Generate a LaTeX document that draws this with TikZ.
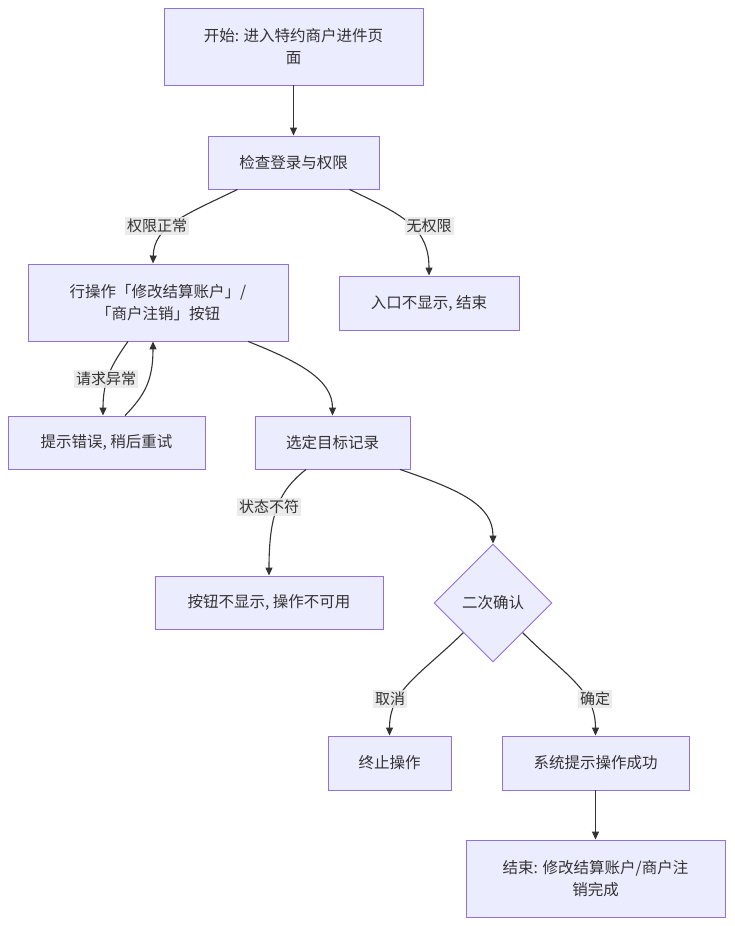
\documentclass[tikz,border=0pt]{standalone}
\usepackage{fontspec}
\setmainfont{Noto Sans CJK SC}
\usetikzlibrary{shapes.geometric,arrows.meta,calc}
\definecolor{nodefill}{HTML}{ECECFF}
\definecolor{nodeline}{HTML}{9370DB}
\definecolor{edgeline}{HTML}{333333}
\definecolor{txt}{HTML}{333333}
\definecolor{lblbg}{HTML}{E8E8E8}
\begin{document}
\begin{tikzpicture}[x=1pt,y=-1pt,
  box/.style={draw=nodeline,fill=nodefill,line width=0.9pt,inner sep=0pt,align=center,text=txt,font=\fontsize{15.5}{22}\selectfont},
  dia/.style={diamond,shape aspect=1,draw=nodeline,fill=nodefill,line width=0.9pt,inner sep=0pt,minimum width=118pt,minimum height=118pt,text=txt,font=\fontsize{15.5}{22}\selectfont},
  lbl/.style={fill=lblbg,fill opacity=0.85,text opacity=1,text=txt,inner sep=2pt,font=\fontsize{15}{18}\selectfont},
  edge/.style={draw=edgeline,line width=1.1pt,-{Triangle[length=8pt,width=7pt]}}
]
\useasboundingbox (0,0) rectangle (734,926);
\fill[white] (0,0) rectangle (734,926);

\node[box,minimum width=259pt,minimum height=77pt] (n1) at (293.5,46.5) {开始: 进入特约商户进件页\\面};
\node[box,minimum width=171pt,minimum height=53pt] (n2) at (293.5,162.5) {检查登录与权限};
\node[box,minimum width=260pt,minimum height=77pt] (n3) at (158,302.5) {行操作「修改结算账户」/\\「商户注销」按钮};
\node[box,minimum width=180pt,minimum height=54pt] (n4) at (429,303) {入口不显示, 结束};
\node[box,minimum width=197pt,minimum height=53pt] (n5) at (106.5,442.5) {提示错误, 稍后重试};
\node[box,minimum width=155pt,minimum height=53pt] (n6) at (332.5,442.5) {选定目标记录};
\node[box,minimum width=228pt,minimum height=53pt] (n7) at (269,602.5) {按钮不显示, 操作不可用};
\node[dia] (n8) at (493,603) {二次确认};
\node[box,minimum width=123pt,minimum height=54pt] (n9) at (389.5,763) {终止操作};
\node[box,minimum width=187pt,minimum height=54pt] (n10) at (595.5,763) {系统提示操作成功};
\node[box,minimum width=259pt,minimum height=77pt] (n11) at (595.5,878.5) {结束: 修改结算账户/商户注\\销完成};

\draw[edge] (n1.south) -- (n2.north);
\draw[edge] ($(n2.south)+(-56,0)$) .. controls (185,215) and (154,226) .. ($(n3.north)+(-5,0)$);
\draw[edge] ($(n2.south)+(56,0)$) .. controls (400,214) and (429,226) .. (n4.north);
\draw[edge] ($(n3.south)+(-30,0)$) .. controls (112,364) and (103,380) .. ($(n5.north)+(-3.5,0)$);
\draw[edge] ($(n5.north)+(18.5,0)$) .. controls (145,395) and (153,380) .. ($(n3.south)+(-5,0)$);
\draw[edge] ($(n3.south)+(90,0)$) .. controls (300,362) and (332.5,380) .. (n6.north);
\draw[edge] ($(n6.south)+(-26.5,0)$) .. controls (280,490) and (269,512) .. (n7.north);
\draw[edge] ($(n6.south)+(67.5,0)$) .. controls (460,490) and (493,505) .. (n8.north);
\draw[edge] (n8.south west) .. controls (420,675) and (389.5,690) .. (n9.north);
\draw[edge] (n8.south east) .. controls (565,675) and (595.5,690) .. (n10.north);
\draw[edge] (n10.south) -- (n11.north);

\node[lbl] (l1) at (157,226) {权限正常};
\node[lbl] (l2) at (429,226) {无权限};
\node[lbl] (l3) at (106,379) {请求异常};
\node[lbl] (l4) at (269,507) {状态不符};
\node[lbl] (l5) at (390,699) {取消};
\node[lbl] (l6) at (595,699) {确定};
\end{tikzpicture}
\end{document}
